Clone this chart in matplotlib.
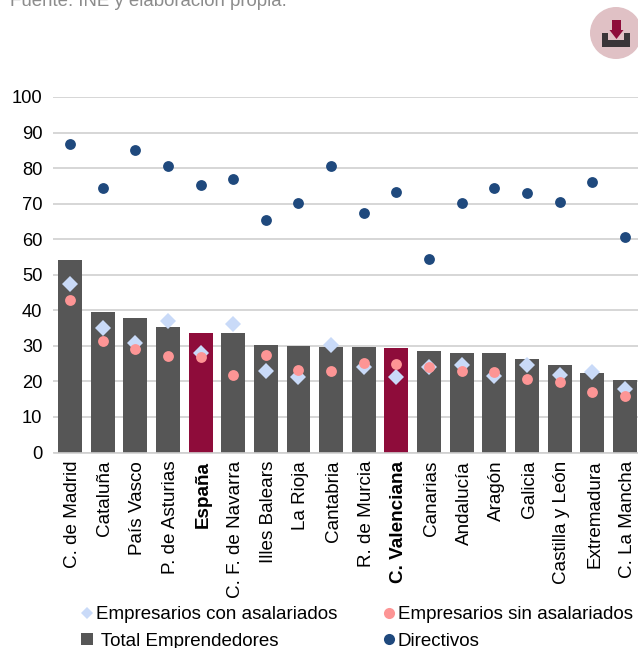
#!/usr/bin/env python3
# -*- coding: utf-8 -*-
import matplotlib
matplotlib.use("Agg")
import matplotlib.pyplot as plt
from matplotlib.lines import Line2D
from matplotlib.patches import Ellipse, Polygon, Rectangle

plt.rcParams['font.family'] = ['Liberation Sans', 'DejaVu Sans']

regiones = ['C. de Madrid', 'Cataluña', 'País Vasco', 'P. de Asturias', 'España',
            'C. F. de Navarra', 'Illes Balears', 'La Rioja', 'Cantabria', 'R. de Murcia',
            'C. Valenciana', 'Canarias', 'Andalucía', 'Aragón', 'Galicia',
            'Castilla y León', 'Extremadura', 'C. La Mancha']
total = [54.1, 39.5, 37.8, 35.3, 33.6, 33.6, 30.2, 30.0, 29.7, 29.7,
         29.4, 28.5, 28.0, 28.0, 26.3, 24.6, 22.4, 20.4]
con_asal = [47.4, 35.1, 30.8, 37.0, 28.0, 36.1, 22.9, 21.2, 30.2, 24.1,
            21.1, 24.1, 24.7, 21.6, 24.6, 21.9, 22.6, 17.8]
sin_asal = [42.9, 31.4, 29.1, 27.2, 26.8, 21.8, 27.4, 23.2, 22.8, 25.3,
            24.9, 24.1, 23.0, 22.7, 20.6, 19.8, 17.1, 15.9]
directivos = [86.8, 74.4, 85.1, 80.6, 75.3, 76.9, 65.4, 70.2, 80.6, 67.4,
              73.3, 54.4, 70.1, 74.3, 73.0, 70.4, 76.2, 60.5]
destacadas = ['España', 'C. Valenciana']

GRIS = '#565656'
GRANATE = '#8E0C3A'
AZUL_CLARO = '#C9DAF8'
ROSA = '#FD9595'
AZUL = '#1F497D'
W, H = 638, 648

fig = plt.figure(figsize=(W / 100, H / 100), dpi=100)
ax = fig.add_axes([53.5 / W, (H - 452.5) / H, (W - 53.5) / W, 355.5 / H])

x = list(range(len(regiones)))
colores = [GRANATE if r in destacadas else GRIS for r in regiones]
ax.bar(x, total, width=0.735, color=colores, zorder=2)
ax.plot(x, directivos, ls='none', marker='o', ms=7.8, color=AZUL, mew=0, zorder=3)
ax.plot(x, con_asal, ls='none', marker='D', ms=8.2, color=AZUL_CLARO, mew=0, zorder=3)
ax.plot(x, sin_asal, ls='none', marker='o', ms=7.8, color=ROSA, mew=0, zorder=4)

ax.set_xlim(-0.505, 17.4)
ax.set_ylim(0, 100)
ax.set_yticks(range(0, 101, 10))
ax.grid(axis='y', color='#CFCFCF', lw=1.2, zorder=0)
ax.set_axisbelow(True)
# las etiquetas van un poco a la derecha del centro de la barra (los ticks no se ven)
ax.set_xticks([i + 0.07 for i in x])
ax.set_xticklabels(regiones, rotation=90, fontsize=13.6, color='black')
for lab in ax.get_xticklabels():
    if lab.get_text() in destacadas:
        lab.set_fontweight('bold')
ax.tick_params(axis='both', length=0)
ax.tick_params(axis='x', pad=6)
ax.tick_params(axis='y', labelsize=13.2, pad=8, labelcolor='black')
for s in ax.spines.values():
    s.set_visible(False)
ax.spines['bottom'].set_visible(True)
ax.spines['bottom'].set_color('#CFCFCF')
ax.spines['bottom'].set_linewidth(1.2)

# leyenda a dos columnas
handles = [
    Line2D([], [], ls='none', marker='D', ms=6, mew=0, color=AZUL_CLARO, label='Empresarios con asalariados'),
    Line2D([], [], ls='none', marker='s', ms=8, mew=0, color=GRIS, label=' Total Emprendedores'),
    Line2D([], [], ls='none', marker='o', ms=8, mew=0, color=ROSA, label='Empresarios sin asalariados'),
    Line2D([], [], ls='none', marker='o', ms=8, mew=0, color=AZUL, label='Directivos'),
]
fig.legend(handles=handles, ncol=2, loc='lower left', bbox_to_anchor=(81.5 / W, -1.5 / H),
           frameon=False, fontsize=13.5, labelcolor='black', handlelength=0.6,
           handletextpad=0.2, columnspacing=2.4, labelspacing=0.48, borderpad=0, borderaxespad=0)

# fuente e icono de descarga, en pixeles de la imagen
deco = fig.add_axes([0, 0, 1, 1], facecolor='none')
deco.set_xlim(0, W)
deco.set_ylim(H, 0)
deco.axis('off')
deco.text(10, 6, 'Fuente: INE y elaboración propia.', fontsize=13.4, color='#8C8C8C', va='baseline')
deco.add_patch(Ellipse((616, 33), 52, 52, color='#E0C1C5', lw=0))
deco.add_patch(Rectangle((602, 40), 28, 7, color='#3A3538', lw=0))
deco.add_patch(Rectangle((602, 33), 6, 8, color='#3A3538', lw=0))
deco.add_patch(Rectangle((624, 33), 6, 8, color='#3A3538', lw=0))
deco.add_patch(Rectangle((612, 20), 9, 11, color=GRANATE, lw=0))
deco.add_patch(Polygon([(609.5, 30), (623.5, 30), (616.5, 39)], color=GRANATE, lw=0))

fig.savefig('out.png', dpi=100)
